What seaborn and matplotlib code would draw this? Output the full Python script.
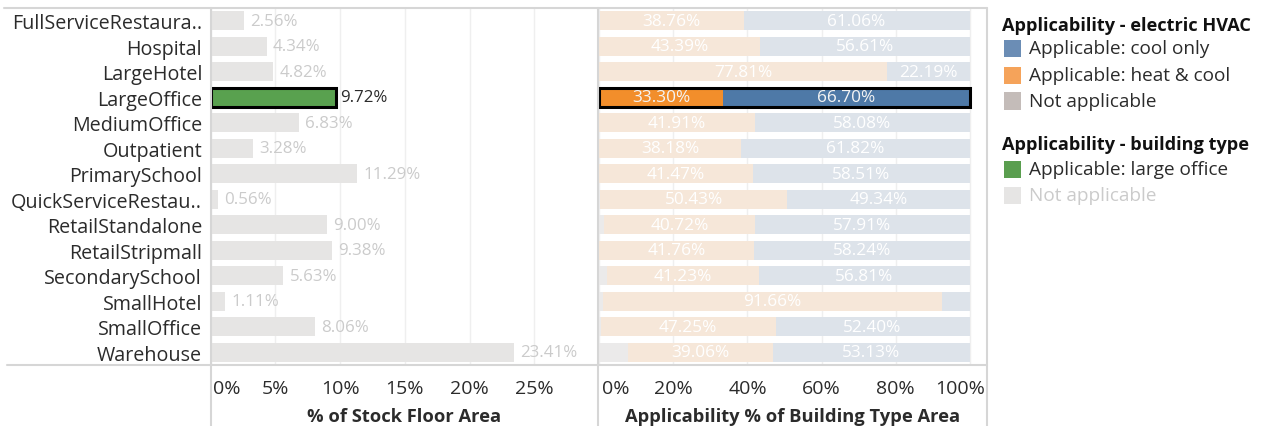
import numpy as np
import pandas as pd
import matplotlib
matplotlib.use("Agg")
import matplotlib.pyplot as plt
import seaborn as sns
from matplotlib.lines import Line2D
from matplotlib.patches import Rectangle
from matplotlib.transforms import ScaledTranslation

# ---------------- data ----------------
building_labels = ["FullServiceRestaura..", "Hospital", "LargeHotel", "LargeOffice",
                   "MediumOffice", "Outpatient", "PrimarySchool", "QuickServiceRestau..",
                   "RetailStandalone", "RetailStripmall", "SecondarySchool", "SmallHotel",
                   "SmallOffice", "Warehouse"]
stock_share = [2.56, 4.34, 4.82, 9.72, 6.83, 3.28, 11.29, 0.56, 9.00, 9.38, 5.63, 1.11, 8.06, 23.41]
not_applicable = [0.18, 0.0, 0.0, 0.0, 0.01, 0.0, 0.02, 0.23, 1.37, 0.0, 1.96, 0.90, 0.35, 7.81]
heat_cool = [38.76, 43.39, 77.81, 33.30, 41.91, 38.18, 41.47, 50.43, 40.72, 41.76, 41.23, 91.66, 47.25, 39.06]
cool_only = [61.06, 56.61, 22.19, 66.70, 58.08, 61.82, 58.51, 49.34, 57.91, 58.24, 56.81, 7.44, 52.40, 53.13]
left_ticks = [0, 5, 10, 15, 20, 25]
right_ticks = [0, 20, 40, 60, 80, 100]
selected = "LargeOffice"

# ---------------- style ----------------
sns.set_theme(style="white")
plt.rcParams["font.family"] = ["Open Sans", "DejaVu Sans"]
TXT = "#2b2b2b"
FAINT_TXT = "#cbcbcb"
GREEN, GRAY_LIGHT = "#59a14f", "#e6e5e4"
ORANGE, ORANGE_F = "#f28e2b", "#f6e7d9"
BLUE, BLUE_F = "#4e79a7", "#dde3ea"
NA_F = "#ebeaea"
LINE = "#d6d6d6"
GRID = "#efefef"

W, H = 1261, 427
fig = plt.figure(figsize=(W / 100, H / 100), dpi=100)
fx = lambda px: px / W
fy = lambda py: 1 - py / H

top, bottom = 9, 366
ax1 = fig.add_axes([fx(210.5), fy(bottom), (598 - 210.5) / W, (bottom - top) / H])
ax2 = fig.add_axes([fx(598), fy(bottom), (987 - 598) / W, (bottom - top) / H])

df = pd.DataFrame({"label": building_labels, "share": stock_share,
                   "na": not_applicable, "hc": heat_cool, "co": cool_only})
df["cum_na"] = df["na"]
df["cum_hc"] = df["na"] + df["hc"]
df["cum_all"] = df["na"] + df["hc"] + df["co"]

BAR_W = 0.73

# ---------------- left chart ----------------
pal_left = {l: (GREEN if l == selected else GRAY_LIGHT) for l in building_labels}
sns.barplot(data=df, x="share", y="label", hue="label", hue_order=building_labels,
            order=building_labels, palette=pal_left, legend=False, width=BAR_W,
            saturation=1, linewidth=0, ax=ax1, orient="h")
for i, cont in enumerate(ax1.containers):
    lab = building_labels[i]
    ax1.bar_label(cont, labels=[f"{stock_share[i]:.2f}%"], padding=(2.5 if lab == selected else 4.5),
                  color=(TXT if lab == selected else FAINT_TXT), fontsize=12.2)
    if lab == selected:
        p = cont.patches[0]
        ax1.add_patch(Rectangle((p.get_x(), p.get_y()), p.get_width(), p.get_height(),
                                fill=False, edgecolor="black", lw=2.2, zorder=5))

ax1.set_xlim(0, 29.9)
ax1.set_ylim(len(building_labels) - 0.5, -0.5)
ax1.set_xticks(left_ticks)
ax1.set_xticklabels([f"{t}%" for t in left_ticks])
ax1.set_ylabel("")
ax1.set_xlabel("% of Stock Floor Area", fontsize=13.2, fontweight="bold", color=TXT, labelpad=7)
ax1.tick_params(axis="y", length=0, pad=6, labelsize=14.2, labelcolor=TXT)
ax1.tick_params(axis="x", length=0, pad=10, labelsize=14, labelcolor=TXT)
ax1.grid(axis="x", color=GRID, lw=1)
ax1.grid(axis="y", visible=False)
ax1.set_axisbelow(True)

# ---------------- right chart (stacked) ----------------
layers = [("cum_all", BLUE, BLUE_F), ("cum_hc", ORANGE, ORANGE_F), ("cum_na", "#bab0ac", NA_F)]
for li, (col, full_c, faded_c) in enumerate(layers):
    pal = {l: (full_c if l == selected else faded_c) for l in building_labels}
    sns.barplot(data=df, x=col, y="label", hue="label", hue_order=building_labels,
                order=building_labels, palette=pal, legend=False, width=BAR_W,
                saturation=1, linewidth=0, ax=ax2, orient="h")
    if li == 0:
        for i, cont in enumerate(ax2.containers):
            if building_labels[i] == selected:
                p = cont.patches[0]
                ax2.add_patch(Rectangle((p.get_x(), p.get_y()), p.get_width(), p.get_height(),
                                        fill=False, edgecolor="black", lw=2.2, zorder=6))

for i, row in df.iterrows():
    col = "white" if row["label"] != selected else "#f4f4f4"
    if row["hc"] >= 10:
        ax2.text((row["cum_na"] + row["cum_hc"]) / 2, i, f"{row['hc']:.2f}%",
                 ha="center", va="center", color=col, fontsize=12.4, zorder=7)
    if row["co"] >= 10:
        ax2.text((row["cum_hc"] + row["cum_all"]) / 2, i, f"{row['co']:.2f}%",
                 ha="center", va="center", color=col, fontsize=12.4, zorder=7)

ax2.set_xlim(-0.38, 104.7)
ax2.set_ylim(len(building_labels) - 0.5, -0.5)
ax2.set_xticks(right_ticks)
ax2.set_xticklabels([f"{t}%" for t in right_ticks])
ax2.set_yticks([])
ax2.set_ylabel("")
ax2.set_xlabel("Applicability % of Building Type Area", fontsize=13.2, fontweight="bold",
               color=TXT, labelpad=7)
ax2.tick_params(axis="x", length=0, pad=10, labelsize=14, labelcolor=TXT)
ax2.grid(axis="x", color=GRID, lw=1)
ax2.set_axisbelow(True)

for ax in (ax1, ax2):
    for s in ax.spines.values():
        s.set_visible(False)
    lbls = ax.get_xticklabels()
    lbls[0].set_horizontalalignment("left")
    lbls[0].set_transform(lbls[0].get_transform() + ScaledTranslation(3 / 100, 0, fig.dpi_scale_trans))
lr = ax2.get_xticklabels()[-1]
lr.set_horizontalalignment("right")
lr.set_transform(lr.get_transform() + ScaledTranslation(15 / 100, 0, fig.dpi_scale_trans))

# ---------------- frame lines ----------------
def fline(x0, y0, x1, y1):
    fig.add_artist(Line2D([fx(x0), fx(x1)], [fy(y0), fy(y1)], color=LINE, lw=1.5,
                          transform=fig.transFigure))

fline(4, top, 987, top)
fline(7, bottom, 987, bottom)
for xv in (210.5, 598, 987):
    fline(xv, top, xv, H)

# ---------------- legend ----------------
def sw(x, y, c):
    fig.add_artist(Rectangle((fx(x), fy(y + 8.5)), 17 / W, 17 / H, facecolor=c,
                             edgecolor="none", transform=fig.transFigure))

fig.text(fx(1002), fy(26), "Applicability - electric HVAC", fontsize=13.1, fontweight="bold",
         color="#111111", va="center", ha="left")
entries = [(49, "#6b8db5", "Applicable: cool only", TXT),
           (76, "#f5a35a", "Applicable: heat & cool", TXT),
           (102, "#c4bcb9", "Not applicable", TXT)]
for y, c, t, tc in entries:
    sw(1004, y, c)
    fig.text(fx(1029), fy(y), t, fontsize=13.7, color=tc, va="center", ha="left")
fig.text(fx(1002), fy(145), "Applicability - building type", fontsize=13.1, fontweight="bold",
         color="#111111", va="center", ha="left")
for y, c, t, tc in [(170, "#5a9e4f", "Applicable: large office", TXT),
                    (196, GRAY_LIGHT, "Not applicable", FAINT_TXT)]:
    sw(1004, y, c)
    fig.text(fx(1029), fy(y), t, fontsize=13.7, color=tc, va="center", ha="left")

fig.savefig("out.png", dpi=100)
